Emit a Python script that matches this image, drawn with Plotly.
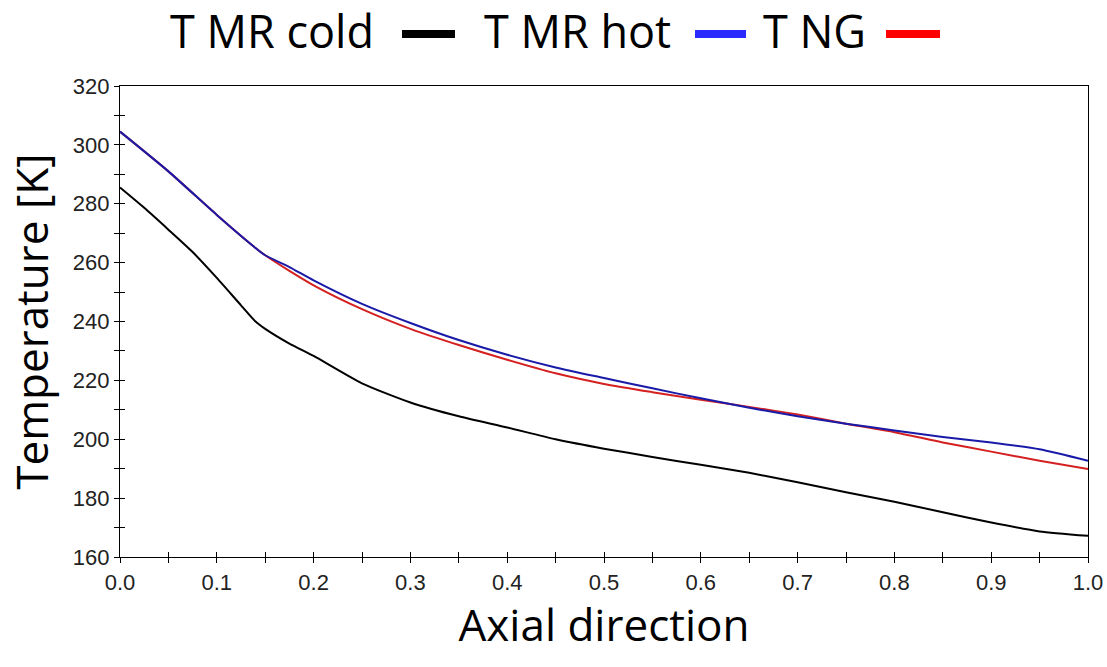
import plotly.graph_objects as go

# Axial position (dimensionless)
x_cold = [0.0, 0.025, 0.05, 0.075, 0.1, 0.125, 0.14, 0.15, 0.175, 0.2, 0.25, 0.3, 0.35, 0.4,
          0.45, 0.5, 0.55, 0.6, 0.65, 0.7, 0.75, 0.8, 0.85, 0.9, 0.95, 1.0]
t_mr_cold = [285.5, 278.6, 271.2, 263.6, 254.8, 245.5, 240.0, 237.5, 232.5, 228.3, 219.0, 212.5,
             207.8, 204.0, 200.0, 196.8, 194.0, 191.3, 188.6, 185.4, 182.0, 178.8, 175.2, 171.7,
             168.7, 167.2]

x_hot = [0.0, 0.05, 0.1, 0.14, 0.15, 0.175, 0.2, 0.25, 0.3, 0.35, 0.4, 0.45, 0.5, 0.55, 0.6,
         0.65, 0.7, 0.75, 0.8, 0.85, 0.9, 0.95, 1.0]
t_mr_hot = [304.5, 291.0, 276.2, 265.0, 262.5, 258.5, 254.0, 246.0, 239.5, 233.7, 228.7, 224.4,
            220.8, 217.3, 213.9, 210.7, 207.8, 205.3, 203.0, 200.8, 198.9, 196.6, 192.7]

x_ng = [0.0, 0.05, 0.1, 0.14, 0.15, 0.175, 0.2, 0.25, 0.3, 0.35, 0.4, 0.45, 0.5, 0.55, 0.6,
        0.65, 0.7, 0.75, 0.8, 0.85, 0.9, 0.95, 1.0]
t_ng = [304.5, 291.0, 276.2, 265.0, 262.5, 257.2, 252.3, 244.2, 237.5, 232.0, 227.0, 222.4,
        218.8, 216.0, 213.4, 211.0, 208.4, 205.3, 202.4, 198.9, 195.8, 192.7, 189.9]

series_names = ["T MR cold", "T MR hot", "T NG"]
series_colors = ["#000000", "#2a2aff", "#ff0000"]
line_colors = ["#000000", "#1a1aa8", "#d42020"]

x_ticks = [0.0, 0.1, 0.2, 0.3, 0.4, 0.5, 0.6, 0.7, 0.8, 0.9, 1.0]
x_ticklabels = ["0.0", "0.1", "0.2", "0.3", "0.4", "0.5", "0.6", "0.7", "0.8", "0.9", "1.0"]
y_ticks = [160, 180, 200, 220, 240, 260, 280, 300, 320]

fig = go.Figure()
fig.add_trace(go.Scatter(x=x_cold, y=t_mr_cold, mode="lines", name=series_names[0],
                         line=dict(color=line_colors[0], width=2, shape="spline", smoothing=0.6)))
fig.add_trace(go.Scatter(x=x_ng, y=t_ng, mode="lines", name=series_names[2],
                         line=dict(color=line_colors[2], width=2, shape="spline", smoothing=0.6)))
fig.add_trace(go.Scatter(x=x_hot, y=t_mr_hot, mode="lines", name=series_names[1],
                         line=dict(color=line_colors[1], width=2, shape="spline", smoothing=0.6)))

tickfont = dict(family="Liberation Sans, Arial, sans-serif", size=22, color="#222222")
titlefont = dict(family="Open Sans, sans-serif", size=44, color="#000000")
legendfont = dict(family="Open Sans, sans-serif", size=45, color="#000000")

fig.update_layout(
    width=1107, height=667,
    margin=dict(l=120, r=19, t=86, b=110, autoexpand=False),
    paper_bgcolor="white", plot_bgcolor="white",
    showlegend=False,
    xaxis=dict(range=[0, 1], tickvals=x_ticks, ticktext=x_ticklabels, ticks="outside",
               ticklen=5, tickcolor="black", showline=True, linecolor="black", linewidth=1.2,
               mirror=True, showgrid=False, zeroline=False, tickfont=tickfont, automargin=False,
               minor=dict(dtick=0.05, ticks="outside", ticklen=5, tickcolor="black"),
               title=dict(text="Axial direction", font=titlefont, standoff=14)),
    yaxis=dict(range=[160, 320], tickvals=y_ticks, ticks="outside", ticklen=5,
               tickcolor="black", showline=True, linecolor="black", linewidth=1.2, mirror=True,
               showgrid=False, zeroline=False, tickfont=tickfont, automargin=False,
               minor=dict(dtick=10, ticks="outside", ticklen=5, tickcolor="black"),
               title=dict(text="Temperature [K]", font=titlefont, standoff=10)),
    xaxis2=dict(range=[0, 1], overlaying="x", anchor="y", side="bottom", showticklabels=False,
                tickvals=[i * 0.05 for i in range(21)], ticks="inside", ticklen=5,
                tickcolor="black", showgrid=False, zeroline=False, showline=False,
                automargin=False),
    yaxis2=dict(range=[160, 320], overlaying="y", anchor="x", side="left", showticklabels=False,
                tickvals=list(range(160, 321, 10)), ticks="inside", ticklen=5,
                tickcolor="black", showgrid=False, zeroline=False, showline=False,
                automargin=False),
)
# invisible trace to activate the inside-tick overlay axes
fig.add_trace(go.Scatter(x=[0, 1], y=[160, 320], xaxis="x2", yaxis="y2", mode="markers",
                         marker=dict(opacity=0), hoverinfo="skip", showlegend=False))

# Legend drawn as text followed by a line sample (as in the original)
legend_text_x = [168, 482, 761]
legend_swatch_x = [(402, 455), (695, 746), (886, 940)]
W, H = 968.0, 471.0
for name, color, tx, (s0, s1) in zip(series_names, series_colors, legend_text_x, legend_swatch_x):
    fig.add_annotation(xref="paper", yref="paper", x=(tx - 120) / W, y=(557 - 30) / H,
                       text=name, showarrow=False, xanchor="left", yanchor="middle",
                       font=legendfont)
    fig.add_shape(type="line", xref="paper", yref="paper",
                  x0=(s0 - 120) / W, x1=(s1 - 120) / W,
                  y0=(557 - 34) / H, y1=(557 - 34) / H,
                  line=dict(color=color, width=8))

fig.write_html("out.html", config={"displayModeBar": False})

# remove the browser's default body margin so the figure fills the window exactly
with open("out.html", "r", encoding="utf-8") as f:
    html = f.read()
html = html.replace("<body>", '<body style="margin:0;padding:0;overflow:hidden">', 1)
with open("out.html", "w", encoding="utf-8") as f:
    f.write(html)
